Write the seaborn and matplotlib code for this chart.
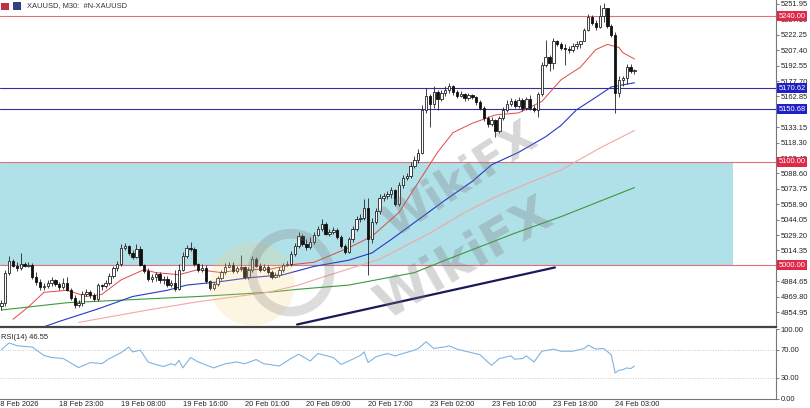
import numpy as np
import pandas as pd
import matplotlib
matplotlib.use('Agg')
from matplotlib import pyplot as plt
from matplotlib.patches import Rectangle, Ellipse
import matplotlib.transforms as mtransforms
import seaborn as sns

# XAUUSD M30 candles
first_open = 4961
closes = [4964, 4993, 5004, 4999, 4997, 5001, 4999, 5000, 4989, 4984,
          4979, 4980, 4983, 4986, 4982, 4979, 4983, 4976, 4969, 4962,
          4964, 4972, 4974, 4971, 4968, 4981, 4980, 4983, 4990, 4997,
          5001, 5017, 5019, 5012, 5008, 5016, 5000, 4995, 4987, 4989,
          4992, 4986, 4987, 4981, 4983, 4977, 4996, 5009, 5017, 5016,
          5001, 4996, 4997, 4985, 4978, 4982, 4988, 4994, 4998, 5000,
          4995, 4997, 4998, 4989, 4996, 5006, 4999, 4996, 4998, 4994,
          4989, 4991, 4996, 5000, 5001, 5011, 5019, 5028, 5021, 5018,
          5023, 5029, 5035, 5040, 5030, 5032, 5034, 5027, 5019, 5013,
          5025, 5035, 5045, 5046, 5055, 5025, 5042, 5052, 5065, 5067,
          5069, 5073, 5059, 5077, 5084, 5086, 5096, 5102, 5108, 5150,
          5163, 5156, 5167, 5160, 5166, 5169, 5173, 5167, 5163, 5165,
          5161, 5164, 5162, 5157, 5152, 5142, 5136, 5140, 5130, 5142,
          5150, 5156, 5158, 5154, 5159, 5152, 5160, 5152, 5150, 5165,
          5193, 5201, 5195, 5216, 5213, 5210, 5209, 5208, 5211, 5213,
          5216, 5227, 5239, 5234, 5230, 5240, 5248, 5231, 5222, 5166,
          5179, 5181, 5191, 5187, 5188]
highs = [4967, 4996, 5009, 5006, 5003, 5012, 5003, 5003, 5002, 4994,
         4987, 4983, 4986, 4989, 4987, 4984, 4988, 4989, 4978, 4971,
         4967, 4975, 4977, 4976, 4973, 4983, 4982, 4986, 4993, 4999,
         5004, 5021, 5022, 5020, 5015, 5021, 5019, 5001, 4997, 4992,
         4994, 4994, 4990, 4990, 4986, 4996, 5001, 5013, 5020, 5023,
         5018, 5002, 5001, 5000, 4986, 4984, 4990, 4996, 5002, 5003,
         5003, 4999, 5010, 4999, 4998, 5009, 5008, 5002, 5001, 5000,
         4996, 4994, 4998, 5002, 5004, 5014, 5022, 5032, 5030, 5025,
         5027, 5032, 5038, 5045, 5042, 5035, 5037, 5036, 5029, 5021,
         5027, 5038, 5048, 5050, 5064, 5065, 5046, 5055, 5069, 5070,
         5072, 5076, 5074, 5080, 5087, 5089, 5100, 5105, 5112, 5155,
         5171, 5165, 5173, 5169, 5169, 5173, 5176, 5174, 5169, 5168,
         5166, 5166, 5165, 5163, 5159, 5154, 5144, 5143, 5141, 5144,
         5153, 5159, 5161, 5160, 5162, 5161, 5162, 5164, 5155, 5167,
         5196, 5217, 5203, 5219, 5217, 5215, 5213, 5211, 5214, 5216,
         5216, 5229, 5242, 5241, 5237, 5251, 5253, 5248, 5233, 5225,
         5183, 5183, 5194, 5194, 5189]
lows = [4957, 4961, 4991, 4998, 4995, 4996, 4998, 4998, 4987, 4981,
        4976, 4976, 4978, 4980, 4980, 4976, 4977, 4975, 4967, 4959,
        4960, 4961, 4970, 4969, 4966, 4966, 4976, 4978, 4981, 4988,
        4995, 4999, 5015, 5010, 5006, 5007, 4999, 4993, 4985, 4984,
        4985, 4983, 4982, 4979, 4979, 4975, 4976, 4995, 5007, 5014,
        4999, 4994, 4994, 4983, 4976, 4976, 4980, 4986, 4992, 4998,
        4993, 4993, 4995, 4987, 4987, 4994, 4998, 4994, 4995, 4992,
        4987, 4988, 4989, 4994, 4999, 4999, 5009, 5017, 5019, 5015,
        5016, 5021, 5028, 5033, 5029, 5028, 5030, 5025, 5017, 5011,
        5012, 5023, 5033, 5042, 5044, 4991, 5022, 5040, 5050, 5062,
        5064, 5065, 5057, 5057, 5075, 5082, 5084, 5094, 5099, 5107,
        5147, 5133, 5152, 5150, 5158, 5163, 5166, 5164, 5161, 5162,
        5158, 5159, 5160, 5155, 5150, 5139, 5133, 5134, 5124, 5128,
        5140, 5148, 5154, 5152, 5152, 5149, 5150, 5150, 5148, 5143,
        5163, 5191, 5187, 5189, 5211, 5208, 5193, 5205, 5206, 5209,
        5210, 5216, 5226, 5232, 5227, 5229, 5235, 5229, 5220, 5147,
        5162, 5173, 5175, 5185, 5184]

# moving averages (bar index, price) read at sample points
ma_red_idx = [3, 7, 11, 17, 22, 26, 31, 37, 40, 46, 51, 57, 62, 69, 76, 81, 90, 96, 103,
              108, 113, 117, 122, 128, 134, 140, 145, 150, 154, 157, 160, 161, 164]
ma_red = [4948, 4960, 4974, 4976, 4970, 4972, 4986, 4996, 4993, 4991, 4996, 4993, 4996,
          4996, 5001, 5003, 5017, 5028, 5051, 5080, 5109, 5128, 5137, 5145, 5147, 5158,
          5179, 5191, 5208, 5213, 5210, 5205, 5199]
ma_blue_idx = [5, 15, 25, 34, 43, 48, 56, 64, 73, 81, 90, 96, 101, 108, 115, 122, 127,
               134, 141, 145, 149, 154, 158, 161, 164]
ma_blue = [4933, 4946, 4958, 4970, 4976, 4981, 4984, 4988, 4991, 4999, 5005, 5012, 5025,
           5044, 5063, 5081, 5097, 5109, 5124, 5135, 5150, 5162, 5172, 5174, 5176]
ma_pink_idx = [20, 38, 51, 69, 77, 81, 98, 111, 120, 128, 137, 145, 155, 164]
ma_pink = [4945, 4957, 4965, 4974, 4981, 4986, 5006, 5031, 5051, 5066, 5080, 5092, 5113, 5130]
ma_green_idx = [0, 17, 34, 51, 69, 77, 90, 107, 115, 124, 133, 145, 164]
ma_green = [4957, 4964, 4967, 4970, 4974, 4977, 4981, 4993, 5005, 5018, 5031, 5047, 5075]

# trend line
trend_idx = [76.6, 143.4]
trend_px = [4943, 4998]

# RSI(14)
rsi_idx = [0, 2, 4, 8, 11, 13, 16, 20, 23, 26, 28, 31, 33, 34, 36, 38, 40, 42, 44, 45, 46,
           47, 49, 51, 55, 58, 61, 63, 66, 68, 72, 75, 77, 80, 82, 86, 88, 91, 93, 94, 95,
           97, 100, 102, 104, 107, 108, 110, 112, 115, 116, 118, 121, 124, 126, 127, 129,
           132, 133, 135, 136, 138, 140, 143, 145, 148, 151, 152, 154, 156, 158, 159, 160,
           161, 162, 163, 164]
rsi = [70, 80, 76, 74, 62, 59, 57.5, 44.5, 51.7, 50.2, 57.5, 66, 74, 67, 69.5, 52.6, 48.8,
       46, 50, 47.8, 55, 44, 59, 52.6, 44, 50, 52.6, 50, 56, 50, 46.8, 57.5, 63.7, 54, 64.7,
       59, 49, 56.5, 62, 67, 51.7, 60, 64.7, 61.3, 64.7, 69.5, 72, 81.6, 72, 74.3, 75.8,
       71, 67, 63, 52.6, 47.8, 57.5, 61.3, 56.5, 57.5, 61.3, 52.6, 68, 71, 68, 68, 72,
       76.8, 71, 72, 63, 36.7, 40.6, 41.5, 44, 43, 46.55]

tick_idx = [15, 31, 47, 63, 79, 95, 111, 127, 143, 159]
tick_labels = ['18 Feb 23:00', '19 Feb 08:00', '19 Feb 16:00', '20 Feb 01:00', '20 Feb 09:00',
               '20 Feb 17:00', '23 Feb 02:00', '23 Feb 10:00', '23 Feb 18:00', '24 Feb 03:00']
price_ticks = [4954.95 + 14.85 * k for k in range(21)]
red_levels = [5240.00, 5100.00, 5000.00]
blue_levels = [5170.62, 5150.68]

sns.set_style('white')
plt.rcParams['font.family'] = ['Liberation Sans', 'DejaVu Sans']
FS = 5.4

df = pd.DataFrame({'close': closes, 'high': highs, 'low': lows})
df['open'] = [first_open] + closes[:-1]
df['idx'] = np.arange(len(df))
df['high'] = df[['high', 'open', 'close']].max(axis=1)
df['low'] = df[['low', 'open', 'close']].min(axis=1)

fig = plt.figure(figsize=(8.1, 4.08), dpi=100)
W, H = 810, 408
ax = fig.add_axes([0, 1 - 327 / H, 776 / W, 327 / H])
ax_rsi = fig.add_axes([0, 1 - 398.5 / H, 776 / W, 69.5 / H], sharex=ax)

xmin, xmax = -1.4 / 3.86, (776 - 1.4) / 3.86
ax.set_xlim(xmin, xmax)
ax.set_ylim(4940.6, 5255.8)

# support zone
ax.add_patch(Rectangle((xmin, 5000), 189.5 - xmin, 100, facecolor='#b0e0e8',
                       edgecolor='none', zorder=0))
for lv in red_levels:
    ax.axhline(lv, color='#e0707c', lw=0.8, zorder=1)
for lv in blue_levels:
    ax.axhline(lv, color='#3030a0', lw=0.8, zorder=1)

# moving averages
sns.lineplot(x=ma_green_idx, y=ma_green, ax=ax, color='#3c9a3c', lw=0.8, zorder=2)
sns.lineplot(x=ma_pink_idx, y=ma_pink, ax=ax, color='#f0a8a8', lw=0.8, zorder=2)
sns.lineplot(x=ma_blue_idx, y=ma_blue, ax=ax, color='#2838c8', lw=0.8, zorder=2)
sns.lineplot(x=ma_red_idx, y=ma_red, ax=ax, color='#e04848', lw=0.7, zorder=2)
ax.plot(trend_idx, trend_px, color='#1a1a5a', lw=1.6, zorder=2)

# candles
ax.vlines(df['idx'], df['low'], df['high'], color='#222222', lw=0.6, zorder=3)
up = df['close'] >= df['open']
body = (df['close'] - df['open']).abs().clip(lower=0.8)
bottom = df[['open', 'close']].min(axis=1)
ax.bar(df['idx'][up], body[up], bottom=bottom[up], width=0.62, color='white',
       edgecolor='#222222', lw=0.6, zorder=4)
ax.bar(df['idx'][~up], body[~up], bottom=bottom[~up], width=0.62, color='#111111',
       edgecolor='#111111', lw=0.6, zorder=4)

# watermark
ax.add_patch(Ellipse((65, 4982), 22, 80, facecolor='#f3d27a', edgecolor='none',
                     alpha=0.22, zorder=5))
ax.add_patch(Ellipse((75, 4993), 20, 75, facecolor='none', edgecolor='#7a7a7a', lw=7,
                     alpha=0.25, zorder=6))
ax.text(119, 5082, 'WikiFX', rotation=33, fontsize=32, fontweight='bold',
        family='DejaVu Sans', color='#7a7a7a', alpha=0.3, ha='center', va='center', zorder=6)
ax.text(120, 5006, 'WikiFX', rotation=30, fontsize=36, fontweight='bold',
        family='DejaVu Sans', color='#7a7a7a', alpha=0.3, ha='center', va='center', zorder=6)

# right price scale
ax.yaxis.tick_right()
ax.set_yticks(price_ticks)
ax.set_yticklabels(['%.2f' % v for v in price_ticks], fontsize=FS, color='#222222')
ax.tick_params(axis='y', length=2.5, width=0.6, color='#666666', pad=0.8)
ax.tick_params(axis='x', bottom=False, labelbottom=False)
for s in ['top', 'left']:
    ax.spines[s].set_visible(False)
ax.spines['right'].set_color('#777777')
ax.spines['right'].set_linewidth(0.8)
ax.spines['bottom'].set_color('#444444')
ax.spines['bottom'].set_linewidth(1.6)

tr = mtransforms.blended_transform_factory(ax.transAxes, ax.transData)
for lv in red_levels:
    ax.text(1.003, lv, '%.2f' % lv, transform=tr, fontsize=FS, color='white', va='center',
            ha='left', clip_on=False, zorder=10,
            bbox=dict(boxstyle='square,pad=0.2', facecolor='#e02848', edgecolor='none'))
for lv in blue_levels:
    ax.text(1.003, lv, '%.2f' % lv, transform=tr, fontsize=FS, color='white', va='center',
            ha='left', clip_on=False, zorder=10,
            bbox=dict(boxstyle='square,pad=0.2', facecolor='#2020c8', edgecolor='none'))

# RSI panel
ax_rsi.set_ylim(0, 100)
ax_rsi.axhline(70, color='#b8b8b8', lw=0.6, ls=(0, (1, 2)))
ax_rsi.axhline(30, color='#b8b8b8', lw=0.6, ls=(0, (1, 2)))
sns.lineplot(x=rsi_idx, y=rsi, ax=ax_rsi, color='#80b4e0', lw=0.8)
ax_rsi.yaxis.tick_right()
ax_rsi.set_yticks([0, 30, 70, 100])
ax_rsi.set_yticklabels(['0.00', '30.00', '70.00', '100.00'], fontsize=FS, color='#222222')
ax_rsi.tick_params(axis='y', length=2.5, width=0.6, color='#666666', pad=0.8)
ax_rsi.set_xticks(tick_idx)
ax_rsi.set_xticklabels(tick_labels, fontsize=FS, color='#222222', ha='left')
ax_rsi.tick_params(axis='x', length=2, width=0.6, color='#666666', pad=0)
ax_rsi.set_xlim(xmin, xmax)
ax_rsi.set_xlabel('')
ax_rsi.set_ylabel('')
ax.set_xlabel('')
ax.set_ylabel('')
for s in ['top', 'left']:
    ax_rsi.spines[s].set_visible(False)
ax_rsi.spines['right'].set_color('#777777')
ax_rsi.spines['right'].set_linewidth(0.8)
ax_rsi.spines['bottom'].set_color('#777777')
ax_rsi.spines['bottom'].set_linewidth(0.8)
ax_rsi.annotate('18 Feb 2026', xy=(-1.5, 0), xycoords=('data', 'axes fraction'),
                xytext=(0, -1.5), textcoords='offset points', fontsize=FS, color='#222222',
                va='top', ha='left', annotation_clip=False)
ax_rsi.text(0.001, 0.93, 'RSI(14) 46.55', transform=ax_rsi.transAxes, fontsize=FS,
            color='#222222', va='top', ha='left')

# header
fig.patches.append(Rectangle((1 / W, 1 - 10 / H), 8 / W, 7 / H, transform=fig.transFigure,
                             facecolor='#c03040', edgecolor='none'))
fig.patches.append(Rectangle((13 / W, 1 - 10 / H), 8 / W, 8 / H, transform=fig.transFigure,
                             facecolor='#304080', edgecolor='none'))
fig.text(27 / W, 1 - 6 / H, 'XAUUSD, M30:  #N-XAUUSD', fontsize=FS, color='#333333',
         va='center', ha='left')

fig.savefig('out.png', dpi=100)
